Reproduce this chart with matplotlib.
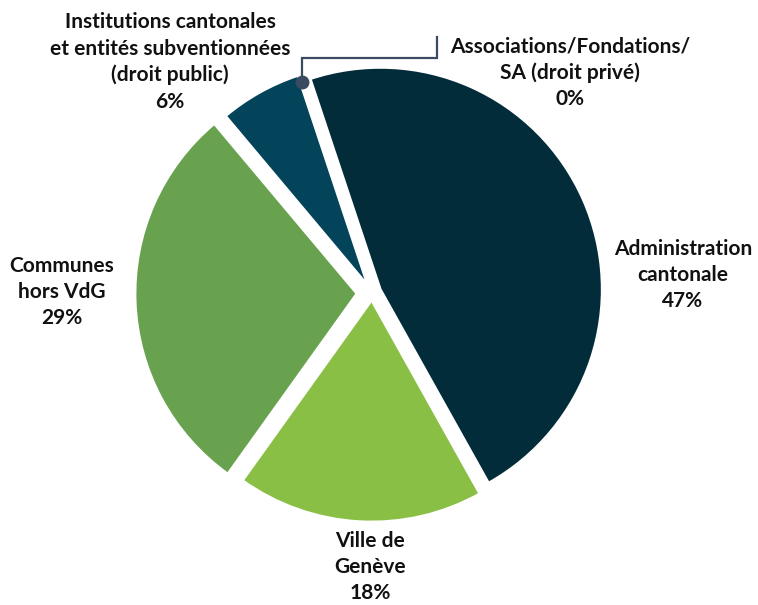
import numpy as np
import matplotlib
matplotlib.use("Agg")
import matplotlib.pyplot as plt

# Répartition par type d'employeur
categories = ["Administration\ncantonale", "Ville de\nGenève", "Communes\nhors VdG",
              "Institutions cantonales\net entités subventionnées\n(droit public)",
              "Associations/Fondations/\nSA (droit privé)"]
shares = [47, 18, 29, 6, 0]
colors = ["#032c3a", "#8abf45", "#68a24f", "#03445a", "#03445a"]

W, H = 758, 605
plt.rcParams["font.family"] = ["Lato", "DejaVu Sans"]

fig = plt.figure(figsize=(W / 100, H / 100), dpi=100)
ax = fig.add_axes([0, 0, 1, 1])

cx, cy, R = 372, H - 293, 222
# explode offsets are in data units (pixels here)
wedges, _ = ax.pie(shares, colors=colors, startangle=108.4, counterclock=False,
                   center=(cx, cy), radius=R, explode=[9, 7, 15, 8, 0],
                   wedgeprops=dict(edgecolor="white", linewidth=2), frame=True)
ax.set_xlim(0, W)
ax.set_ylim(0, H)
ax.axis("off")

# labels: category + share
label_pos = [(683, 275), (370, 567), (62, 292), (170, 62), (570, 73)]
for name, val, (x, y) in zip(categories, shares, label_pos):
    ax.text(x, H - y, f"{name}\n{val}%", ha="center", va="center", fontsize=15,
            fontweight="bold", color="#111111", linespacing=1.38)

# leader line to the 0% slice
ang = np.deg2rad(wedges[4].theta1)
dx, dy = cx + R * np.cos(ang), cy + R * np.sin(ang)
ax.plot([dx, dx, 437, 437], [dy, H - 58, H - 58, H - 37], color="#3a4a62", lw=1.6,
        solid_joinstyle="miter", zorder=5)
ax.plot(dx, dy, "o", color="#3a4a62", ms=9, zorder=6)

fig.savefig("out.png", dpi=100)
